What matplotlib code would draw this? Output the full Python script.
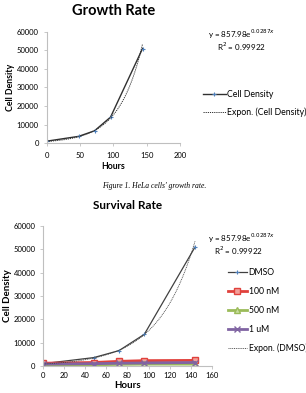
import numpy as np
import matplotlib
matplotlib.use("Agg")
import matplotlib.pyplot as plt

plt.rcParams['font.family'] = ['Lato', 'DejaVu Sans']

# data
hours = [0, 48, 72, 96, 144]
cellDensity = [1000, 3600, 6600, 14000, 51000]
dmso = [1000, 3600, 6600, 13600, 51000]
nM100 = [1200, 1500, 2000, 2300, 2400]
nM500 = [500, 500, 700, 800, 800]
uM1 = [800, 1000, 1200, 1300, 1500]

# excel trendline coefficients (as printed on the chart)
fitA = 857.98
fitB = 0.0287
fitR2 = 0.99922

gridCol = '#bfbfbf'

def styleAxes(ax, xmax, xstep, tickSize, labSize, pad) :
	for s in ['top', 'right'] :
		ax.spines[s].set_visible(False)
	for s in ['left', 'bottom'] :
		ax.spines[s].set_color(gridCol)
		ax.spines[s].set_linewidth(0.8)
	ax.set_ylim(0, 60000)
	ax.set_yticks(np.arange(0, 60001, 10000))
	ax.set_xlim(0, xmax)
	ax.set_xticks(np.arange(0, xmax + 1, xstep))
	ax.tick_params(direction='out', length=2.5, width=0.6, color=gridCol, labelsize=tickSize, pad=pad)
	ax.tick_params(axis='y', pad=3)
	ax.set_xlabel('Hours', fontsize=labSize, fontweight='bold', labelpad=2)
	ax.set_ylabel('Cell Density', fontsize=labSize, fontweight='bold', labelpad=1)

fig = plt.figure(figsize=(3.06, 3.93), dpi=100)
xf = np.linspace(hours[0], hours[-1], 100)

# ---- Growth rate
ax1 = fig.add_axes([0.152, 0.636, 0.436, 0.283])
styleAxes(ax1, 200, 50, 5.5, 6.3, 4)
ax1.plot(hours, cellDensity, color='#303030', lw=1.0, marker='+', ms=3, mec='#4f81bd', mew=0.8, label='Cell Density')
ax1.plot(xf, fitA * np.exp(fitB * xf), color='#303030', lw=0.7, ls=(0, (1.2, 1)), label='Expon. (Cell Density)')
ax1.set_title('Growth Rate', fontsize=10.5, fontweight='bold', pad=12)
ax1.text(1.21, 0.98, 'y = %.2fe$^{%.4fx}$' % (fitA, fitB), transform=ax1.transAxes, fontsize=5.8, ha='left', va='center')
ax1.text(1.277, 0.862, 'R$^2$ = %.5f' % fitR2, transform=ax1.transAxes, fontsize=5.8, ha='left', va='center')
ax1.legend(loc='center left', bbox_to_anchor=(1.172, 0.355), frameon=False, fontsize=6.3, handlelength=2.6, labelspacing=1.0, handletextpad=0.2, borderaxespad=0, borderpad=0)

fig.text(0.505, 0.527, "Figure 1. HeLa cells' growth rate.", ha='center', va='center', fontsize=5.5, style='italic', family='Liberation Serif')

# ---- Survival rate
ax2 = fig.add_axes([0.1405, 0.0687, 0.552, 0.356])
styleAxes(ax2, 160, 20, 5.5, 7, 1.5)
ax2.plot(hours, dmso, color='#404040', lw=0.9, marker='+', ms=3, mec='#4f81bd', mew=0.8, label='DMSO')
ax2.plot(hours, nM100, color='#e0413c', lw=2.0, marker='s', ms=5, mfc='#f2a09b', mec='#e0413c', mew=1.0, label='100 nM')
ax2.plot(hours, nM500, color='#9bbb59', lw=2.0, marker='^', ms=4, mfc='#c9dd9f', mec='#9bbb59', mew=1.0, label='500 nM')
ax2.plot(hours, uM1, color='#8064a2', lw=2.0, marker='x', ms=4, mec='#8064a2', mew=1.0, label='1 uM')
ax2.plot(xf, fitA * np.exp(fitB * xf), color='#404040', lw=0.6, ls=(0, (1.2, 1)), label='Expon. (DMSO)')
ax2.set_title('Survival Rate', fontsize=8.5, fontweight='bold', pad=12)
ax2.text(0.976, 0.915, 'y = %.2fe$^{%.4fx}$' % (fitA, fitB), transform=ax2.transAxes, fontsize=5.8, ha='left', va='center')
ax2.text(1.01, 0.82, 'R$^2$ = %.5f' % fitR2, transform=ax2.transAxes, fontsize=5.8, ha='left', va='center')
ax2.legend(loc='center left', bbox_to_anchor=(1.095, 0.396), frameon=False, fontsize=6.2, handlelength=2.2, labelspacing=1.14, handletextpad=0.2, borderaxespad=0, borderpad=0)

fig.savefig('out.png', dpi=100)
